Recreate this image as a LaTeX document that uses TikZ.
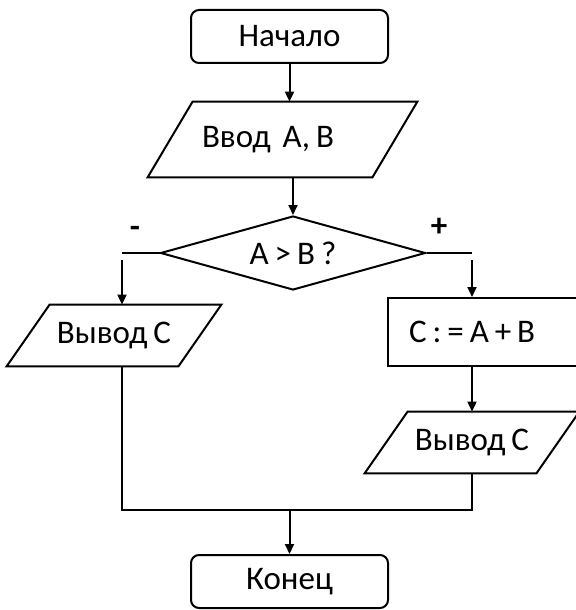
\documentclass[tikz,border=0pt]{standalone}
\usepackage{fontspec}
\setmainfont{Carlito}[WordSpace=0.8]
\usetikzlibrary{arrows.meta,calc,positioning,shapes.geometric}
\tikzset{
  term/.style={rectangle,rounded corners=4pt,draw,line width=1pt,minimum width=98.5pt,minimum height=26.5pt,inner sep=0pt},
  proc/.style={rectangle,draw,line width=1pt,inner sep=0pt},
  iobox/.style={rectangle,inner sep=0pt,minimum width=107pt,minimum height=30.5pt},
  cond/.style={diamond,draw,line width=1pt,inner sep=0pt,shape aspect=3.58,minimum width=132.5pt,minimum height=37pt},
  arr/.style={-{Triangle[length=5pt,width=4.5pt]},line width=1pt},
  conn/.style={line width=1pt},
  sign/.style={font=\fontsize{16.5}{19}\selectfont\bfseries}
}
% parallelogram frame round an iobox node
\newcommand\ioframe[2]{\draw[conn] ($(#1.north west)+(#2,0)$) -- (#1.north east) -- ($(#1.south east)-(#2,0)$) -- (#1.south west) -- cycle;}

\begin{document}
\begin{tikzpicture}[x=0.5pt,y=-0.5pt,font=\fontsize{16.5}{19}\selectfont\frenchspacing]
\useasboundingbox (0,0) rectangle (576,610);

\node[term] (start) at (289.5,36.5) {Начало};
\node[iobox,minimum width=134.5pt,minimum height=37.5pt,text width=80.5pt,align=flush left,inner xsep=27pt] (inp) at (282.5,139.5) {Ввод\ \ А, В};
\node[cond] (dec) at (293,253) {А > В ?};
\node[iobox] (outL) at (114,335.5) {Вывод С};
\node[proc,text width=80pt,align=flush left,inner xsep=10.5pt,minimum height=34pt] (sum) at (489,332) {С : = А + В};
\node[iobox] (outR) at (472,442.5) {Вывод С};
\node[term] (stop) at (289.5,581.5) {Конец};

% branch signs
\node[sign] (minus) at (135,232) {-};
\node[sign] (plus) at (439,227) {+};

% frames of the input/output blocks
\ioframe{inp}{45}
\ioframe{outL}{43}
\ioframe{outR}{43}

% main column
\draw[arr] (start.south) -- (start.south |- inp.north);
\draw[arr] (dec.north |- inp.south) -- (dec.north);

% branches
\coordinate (cl) at (122,253);
\coordinate (cr) at (472,253);
\draw[conn] (dec.west) -- (cl);
\draw[arr] ($(cl)+(0,7)$) -- (cl |- outL.north);
\draw[conn] (dec.east) -- (cr);
\draw[arr] ($(cr)+(0,7)$) -- (cr |- sum.north);
\draw[arr] (outR.north |- sum.south) -- (outR.north);

% merge
\coordinate (mg) at (290,510);
\draw[conn] (cl |- outL.south) |- (outR.south |- mg) -- (outR.south);
\draw[arr] (stop.north |- mg) -- (stop.north);
\end{tikzpicture}
\end{document}
